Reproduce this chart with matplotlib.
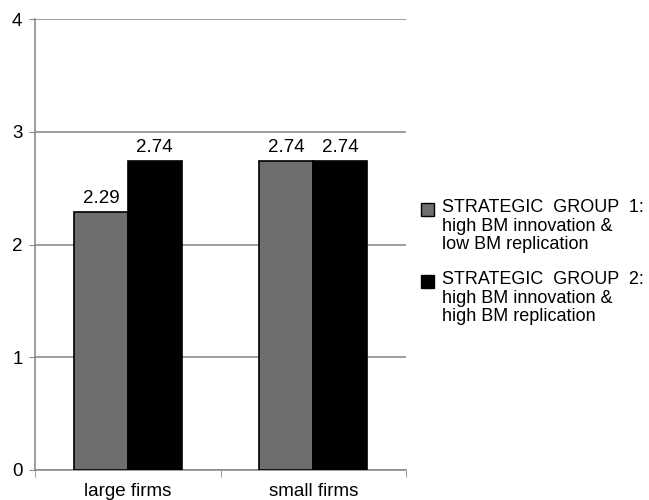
import numpy as np
import matplotlib.pyplot as plt
from matplotlib.patches import Rectangle

plt.rcParams['font.family'] = ['Liberation Sans', 'DejaVu Sans']

categories = ["large firms", "small firms"]
group1 = [2.29, 2.74]
group2 = [2.74, 2.74]
labels = ["STRATEGIC  GROUP  1:\nhigh BM innovation &\nlow BM replication",
          "STRATEGIC  GROUP  2:\nhigh BM innovation &\nhigh BM replication"]
colors = ["#6e6e6e", "black"]
yticks = [0, 1, 2, 3, 4]

W, H = 649, 500
fig = plt.figure(figsize=(W / 100, H / 100), dpi=100)
ax = fig.add_axes([35 / W, 30 / H, 371 / W, 451 / H])

x = np.arange(len(categories)) + 0.5
w = 0.29
b1 = ax.bar(x - w / 2, group1, w, color=colors[0], edgecolor="black", linewidth=1.2, zorder=3)
b2 = ax.bar(x + w / 2, group2, w, color=colors[1], edgecolor="black", linewidth=1.2, zorder=3)

for bars, vals in ((b1, group1), (b2, group2)):
    for bar, v in zip(bars, vals):
        ax.text(bar.get_x() + bar.get_width() / 2, v + 0.045, f"{v:.2f}",
                ha="center", va="bottom", fontsize=13.5)

ax.set_xlim(0, 2)
ax.set_ylim(0, 4)
ax.set_yticks(yticks)
ax.set_yticklabels([str(t) for t in yticks], fontsize=13.5)
ax.yaxis.grid(True, color="#8c8c8c", linewidth=1.2, zorder=0)
ax.tick_params(axis="y", length=4, color="#8c8c8c", pad=5)

ax.set_xticks(x)
ax.set_xticklabels(categories, fontsize=13.5)
ax.tick_params(axis="x", which="major", length=0, pad=9)
ax.set_xticks([0, 1, 2], minor=True)
ax.tick_params(axis="x", which="minor", length=5, color="#8c8c8c")

for side in ("top", "right"):
    ax.spines[side].set_visible(False)
for side in ("left", "bottom"):
    ax.spines[side].set_color("#8c8c8c")
    ax.spines[side].set_linewidth(1.2)

# legend drawn by hand: square beside the first line of each entry
for cap_top, lab, col in zip([203, 275], labels, colors):
    fig.patches.append(Rectangle((421 / W, 1 - (cap_top + 13) / H), 13 / W, 13 / H,
                                 transform=fig.transFigure, facecolor=col,
                                 edgecolor="black", linewidth=1))
    fig.text(442 / W, 1 - (cap_top - 4) / H, lab, ha="left", va="top",
             fontsize=13, linespacing=1.12)

fig.savefig("out.png", dpi=100)
